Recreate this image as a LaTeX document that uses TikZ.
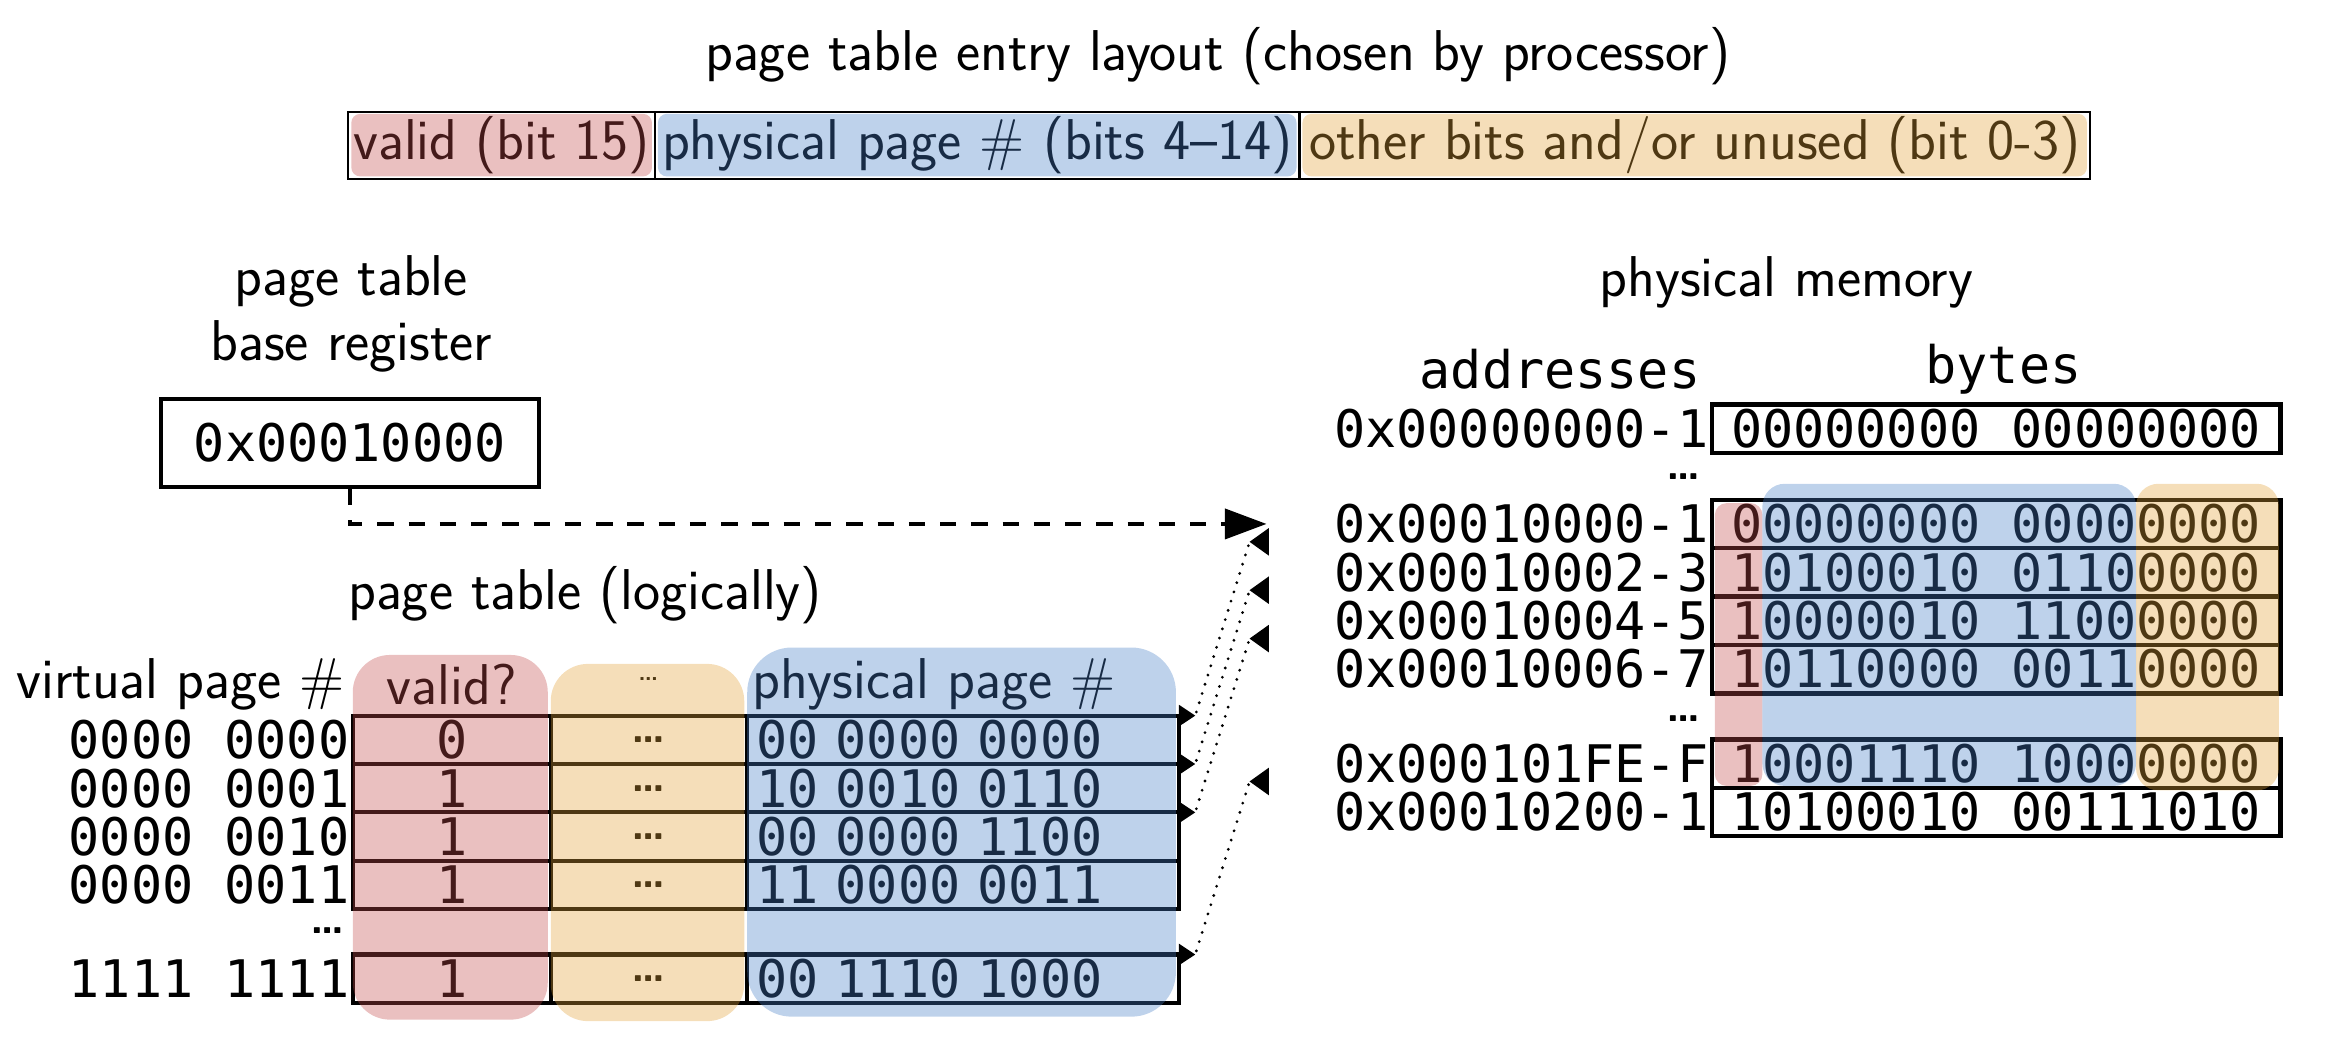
\documentclass[tikz,border=0pt]{standalone}
\usepackage{fontspec}
\setmonofont{DejaVu Sans Mono}
\usetikzlibrary{arrows.meta,positioning}

\definecolor{validred}{RGB}{195,75,75}
\definecolor{ppnblue}{RGB}{69,126,198}
\definecolor{otherorange}{RGB}{226,161,55}

\newcommand\etcdots{{\fontsize{17}{17}\selectfont\sffamily\bfseries\ldots}}

\tikzset{
  lbl/.style={font=\fontsize{22}{25}\selectfont\sffamily, inner sep=0.4mm},
  mono/.style={font=\fontsize{19.8}{23}\selectfont\ttfamily, inner sep=0.4mm},
  gap/.style={inner sep=0pt},
  barcell/.style={lbl, draw, line width=0.3mm, minimum height=9mm, inner sep=0.2mm, outer sep=0pt},
  cell/.style={mono, draw, line width=0.55mm, minimum height=6.5mm, inner sep=0pt, outer sep=0pt},
  memcell/.style={mono, draw, line width=0.6mm, minimum height=6.5mm, minimum width=76.4mm, inner sep=0pt, outer sep=0pt},
  wash/.style={fill=#1, fill opacity=0.35},
  baseptr/.style={line width=0.6mm, dash pattern=on 2.2mm off 2mm, -{Triangle[length=5.6mm,width=4mm]}},
  pteptr/.style={line width=0.42mm, dash pattern=on 0pt off 1.3mm, line cap=round,
    {Triangle[length=2.2mm,width=2.8mm]}-{Triangle[length=2.6mm,width=3.6mm]}},
}

\begin{document}
\begin{tikzpicture}[x=0.2mm, y=-0.2mm]
\useasboundingbox (0,0) rectangle (1568,701);

% entry layout
\node[lbl] (title) at (818,38) {page table entry layout (chosen by processor)};
\node[barcell, minimum width=41.2mm, anchor=west] (bvalid) at (234,97.5) {valid (bit 15)};
\node[barcell, minimum width=86.6mm, anchor=west] (bppn) at (bvalid.east) {physical page \# (bits 4--14)};
\node[barcell, minimum width=106.2mm, anchor=west] (bother) at (bppn.east) {other bits and/or unused (bit 0-3)};

% base register
\node[lbl, align=center] (ptbrlbl) at (236,211) {page table\\base register};
\node[mono, draw, line width=0.6mm, minimum width=50.8mm, minimum height=11.8mm] (ptbr) at (235,297.5) {0x00010000};

% page table
\node[lbl] (ptlbl) at (393,400) {page table (logically)};
\foreach \y/\vpn/\ok/\ppn [count=\i] in {497/0000 0000/0/00 0000 0000, 529.5/0000 0001/1/10 0010 0110,
    562/0000 0010/1/00 0000 1100, 594.5/0000 0011/1/11 0000 0011, 657.5/1111 1111/1/00 1110 1000} {
  \node[cell, minimum width=26.6mm, anchor=west] (ok\i) at (237,\y) {\ok};
  \node[cell, minimum width=26.4mm, anchor=west] (etc\i) at (ok\i.east) {\etcdots};
  \node[cell, text width=55.6mm, inner xsep=1.2mm, align=left, anchor=west] (ppn\i) at (etc\i.east) {\ppn};
  \node[mono, anchor=east] (vpn\i) at (ok\i.west) {\vpn};
}
\node[gap, anchor=east] (vpngap) at (232,625) {\etcdots};
\node[lbl, anchor=east] (hvpn) at (234,460) {virtual page \#};
\node[lbl] (hok) at (ok1.center |- hvpn.center) {valid?};
\node[gap, font=\fontsize{14}{14}\selectfont\sffamily] (hetc) at ([yshift=0.8mm]etc1.center |- hvpn.center) {\ldots};
\node[lbl, anchor=west] (hppn) at (503,460) {physical page \#};

% physical memory
\node[lbl] (pmlbl) at (1200,190) {physical memory};
\node[mono] (haddr) at (1048,248) {addresses};
\node[mono] (hbytes) at (1346,248) {bytes};
\foreach \y/\addr/\word [count=\j from 0] in {288/0x00000000-1/00000000 00000000,
    352/0x00010000-1/00000000 00000000, 384.5/0x00010002-3/10100010 01100000,
    417/0x00010004-5/10000010 11000000, 449.5/0x00010006-7/10110000 00110000,
    513/0x000101FE-F/10001110 10000000, 545.5/0x00010200-1/10100010 00111010} {
  \node[memcell, anchor=west] (m\j) at (1150,\y) {\word};
  \node[mono, anchor=east] (a\j) at (m\j.west) {\addr};
}
\node[gap, anchor=east] (mgap1) at (1143,320) {\etcdots};
\node[gap, anchor=east] (mgap2) at (1143,483) {\etcdots};

% pointers
\draw[baseptr] (ptbr.south) |- ([xshift=-8.6mm]a1.west);
\foreach \i in {1,2,3,5}
  \draw[pteptr] ([xshift=2.2mm]ppn\i.north east) -- ++(-0.01mm,0)
    -- ([shift={(-10.89mm,-2.4mm)}]a\i.west) -- ++(-0.01mm,0);

% colour washes
\fill[wash=validred, rounded corners=1.2mm] ([shift={(0.4mm,-0.3mm)}]bvalid.north west) rectangle ([shift={(-0.4mm,0.3mm)}]bvalid.south east);
\fill[wash=ppnblue, rounded corners=1.2mm] ([shift={(0.4mm,-0.3mm)}]bppn.north west) rectangle ([shift={(-0.4mm,0.3mm)}]bppn.south east);
\fill[wash=otherorange, rounded corners=1.2mm] ([shift={(0.4mm,-0.3mm)}]bother.north west) rectangle ([shift={(-0.4mm,0.3mm)}]bother.south east);

\fill[wash=validred, rounded corners=5mm] (237,440) rectangle (368,685);
\fill[wash=otherorange, rounded corners=5mm] (370,446) rectangle (500,686);
\fill[wash=ppnblue, rounded corners=6mm] (502,435) rectangle (790,683);

\fill[wash=validred, rounded corners=1.6mm] (1152,338) rectangle (1184,528);
\fill[wash=ppnblue, rounded corners=3mm] (1184,325) rectangle (1435,528);
\fill[wash=otherorange, rounded corners=3mm] (1435,325) rectangle (1531,531);
\end{tikzpicture}
\end{document}
